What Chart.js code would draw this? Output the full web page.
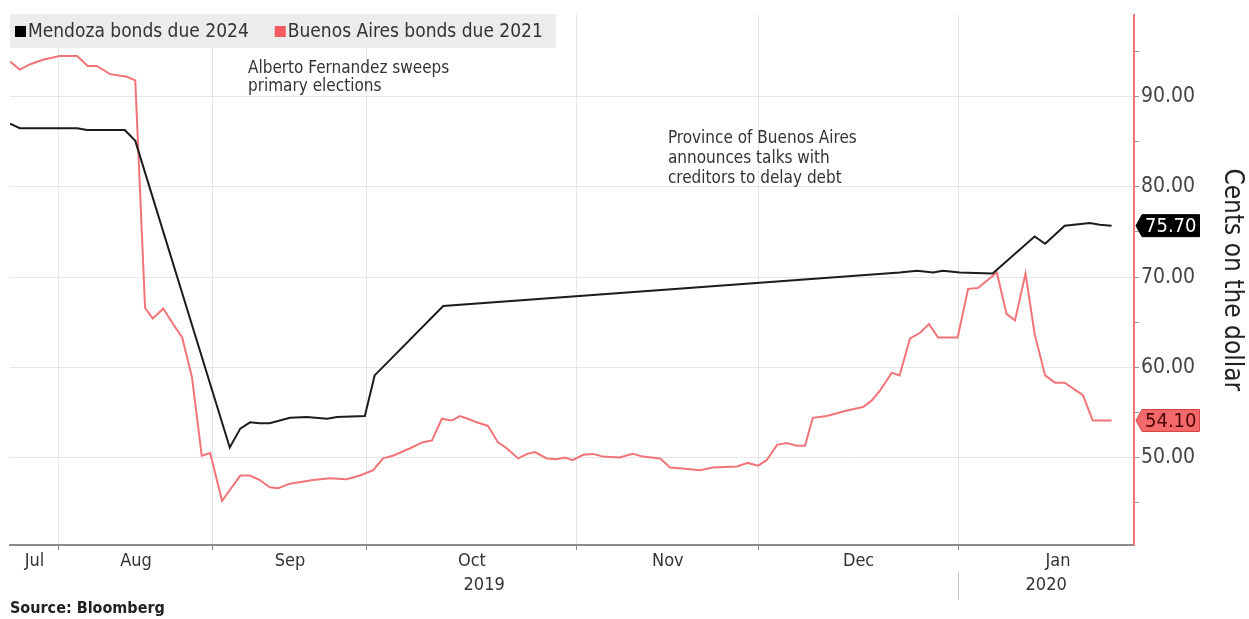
<!DOCTYPE html>
<html lang="en">
<head>
  <meta charset="UTF-8">
  <title>Mendoza vs Buenos Aires bonds</title>
  <script src="https://cdn.jsdelivr.net/npm/chart.js"></script>
  <style>
    body { margin: 0; background: #fff; }
    #wrap { width: 1249px; height: 619px; }
  </style>
</head>
<body>
  <div id="wrap"><canvas id="bondChart" width="1249" height="619"></canvas></div>
  <script>
    // x = session index (Jul 1 2019 = 0), y = cents on the dollar
    const mendozaX = [0, 1.4, 9.6, 11.0, 14.3, 16.4, 17.9, 31.4, 32.9, 34.3, 35.7, 37.1, 40.0, 42.4, 45.3, 46.7, 50.7, 52.1, 61.9,
      127.1, 129.6, 131.9, 133.3, 135.7, 140.4, 146.4, 147.9, 150.7, 154.3, 155.7, 157.4];
    const mendozaY = [87.0, 86.5, 86.5, 86.3, 86.3, 86.3, 85.1, 51.1, 53.2, 53.9, 53.8, 53.8, 54.4, 54.5, 54.3, 54.5, 54.6, 59.1, 66.8,
      70.5, 70.7, 70.5, 70.7, 70.5, 70.4, 74.5, 73.7, 75.7, 76.0, 75.8, 75.7];

    const buenosX = [0, 1.4, 2.9, 4.7, 7.1, 9.6, 11.1, 12.4, 14.3, 16.7, 17.9, 19.3, 20.4, 21.9, 23.3, 24.6, 26.0, 27.4, 28.6, 30.3,
      31.7, 32.9, 34.3, 35.7, 37.1, 38.3, 40.0, 43.3, 45.7, 48.1, 50.0, 51.9, 53.3, 54.7, 57.1, 59.0, 60.3, 61.7, 63.1, 64.3,
      65.4, 66.7, 68.3, 69.7, 71.0, 72.6, 73.9, 75.0, 76.7, 78.1, 79.3, 80.4, 81.9, 83.3, 84.7, 87.1, 89.0, 90.4, 92.9, 94.3,
      95.7, 98.6, 100.4, 103.9, 105.4, 106.9, 108.1, 109.6, 111.0, 112.4, 113.6, 114.7, 116.7, 119.6, 121.9, 123.1, 124.3, 126.0, 127.1, 128.6,
      130.0, 131.3, 132.6, 135.4, 136.9, 138.3, 141.0, 142.4, 143.6, 145.1, 146.4, 147.9, 149.3, 150.7, 153.3, 154.7, 157.4];
    const buenosY = [93.9, 93.0, 93.6, 94.1, 94.5, 94.5, 93.4, 93.4, 92.5, 92.2, 91.8, 66.6, 65.4, 66.5, 64.8, 63.3, 58.9, 50.2, 50.5, 45.2,
      46.7, 48.0, 48.0, 47.5, 46.7, 46.6, 47.1, 47.5, 47.7, 47.6, 48.0, 48.6, 49.9, 50.2, 51.0, 51.7, 51.9, 54.3, 54.1, 54.6,
      54.3, 53.9, 53.5, 51.7, 51.0, 49.9, 50.4, 50.6, 49.9, 49.8, 50.0, 49.7, 50.3, 50.4, 50.1, 50.0, 50.4, 50.1, 49.9, 48.9,
      48.8, 48.6, 48.9, 49.0, 49.4, 49.1, 49.7, 51.4, 51.6, 51.3, 51.3, 54.4, 54.6, 55.2, 55.6, 56.3, 57.4, 59.4, 59.1, 63.2,
      63.8, 64.8, 63.3, 63.3, 68.7, 68.8, 70.5, 65.9, 65.2, 70.4, 63.7, 59.1, 58.3, 58.3, 56.9, 54.1, 54.1];

    const monthNames = ['Jul', 'Aug', 'Sep', 'Oct', 'Nov', 'Dec', 'Jan'];
    const monthStarts = [-14, 7, 29, 51, 81, 107, 135.5, 164]; // last entry = Feb 1
    const yearNames = ['2019', '2020'];
    const yearStarts = [-200, 135.5, 400];
    const yTicks = [45, 50, 55, 60, 65, 70, 75, 80, 85, 90, 95];

    const noteElection = ['Alberto Fernandez sweeps', 'primary elections'];
    const noteProvince = ['Province of Buenos Aires', 'announces talks with', 'creditors to delay debt'];

    const FONT = '"DejaVu Sans Condensed", "Liberation Sans Narrow", "DejaVu Sans", sans-serif';
    const RED = '#f27479';

    function toPoints(xs, ys) {
      return xs.map((v, i) => ({ x: v, y: ys[i] }));
    }

    function drawTag(ctx, left, y, text, fill, stroke, color) {
      ctx.font = '20px ' + FONT;
      const w = ctx.measureText(text).width + 6;
      const h = 22;
      const tip = 6;
      ctx.beginPath();
      ctx.moveTo(left, y);
      ctx.lineTo(left + tip, y - h / 2);
      ctx.lineTo(left + tip + w, y - h / 2);
      ctx.lineTo(left + tip + w, y + h / 2);
      ctx.lineTo(left + tip, y + h / 2);
      ctx.closePath();
      ctx.fillStyle = fill;
      ctx.fill();
      ctx.strokeStyle = stroke;
      ctx.lineWidth = 1;
      ctx.stroke();
      ctx.fillStyle = color;
      ctx.textAlign = 'left';
      ctx.textBaseline = 'middle';
      ctx.fillText(text, left + tip + 3, y + 1);
    }

    const decor = {
      id: 'decor',
      afterDraw(chart) {
        const { ctx, chartArea, scales } = chart;
        const x = scales.x, y = scales.y;
        ctx.save();

        // legend
        ctx.fillStyle = '#ececec';
        ctx.fillRect(10, 14, 546, 34);
        ctx.font = '19px ' + FONT;
        ctx.textBaseline = 'middle';
        ctx.textAlign = 'left';
        let lx = 15;
        chart.data.datasets.forEach(ds => {
          ctx.fillStyle = ds.legendColor;
          ctx.fillRect(lx, 26, 11, 11);
          ctx.fillStyle = '#333';
          ctx.fillText(ds.label, lx + 13, 32);
          lx += 13 + ctx.measureText(ds.label).width + 26;
        });

        // annotations
        ctx.font = '17px ' + FONT;
        ctx.fillStyle = '#333';
        ctx.textBaseline = 'top';
        noteElection.forEach((t, i) => ctx.fillText(t, x.getPixelForValue(34), y.getPixelForValue(94.1) + i * 18));
        noteProvince.forEach((t, i) => ctx.fillText(t, x.getPixelForValue(94), y.getPixelForValue(86.3) + i * 20));

        // month and year labels
        ctx.font = '18px ' + FONT;
        ctx.fillStyle = '#333';
        ctx.textAlign = 'center';
        ctx.textBaseline = 'middle';
        monthNames.forEach((m, i) => {
          const a = Math.max(monthStarts[i], x.min);
          const b = monthStarts[i + 1];
          ctx.fillText(m, x.getPixelForValue((a + b) / 2), chartArea.bottom + 16);
        });
        yearNames.forEach((yr, i) => {
          const a = Math.max(yearStarts[i], x.min);
          const b = Math.min(yearStarts[i + 1], x.max);
          ctx.fillText(yr, x.getPixelForValue((a + b) / 2), chartArea.bottom + 40);
        });
        const sep = Math.round(x.getPixelForValue(yearStarts[1])) + 0.5;
        ctx.strokeStyle = '#c8c8c8';
        ctx.lineWidth = 1;
        ctx.beginPath();
        ctx.moveTo(sep, chartArea.bottom + 27);
        ctx.lineTo(sep, chartArea.bottom + 55);
        ctx.stroke();

        // last value tags
        const tagLeft = chartArea.right + 2;
        drawTag(ctx, tagLeft, y.getPixelForValue(mendozaY[mendozaY.length - 1]),
          mendozaY[mendozaY.length - 1].toFixed(2), '#000', '#000', '#fff');
        drawTag(ctx, tagLeft, y.getPixelForValue(buenosY[buenosY.length - 1]),
          buenosY[buenosY.length - 1].toFixed(2), '#f46a6a', '#d94545', '#4a0000');

        // source
        ctx.font = 'bold 16px ' + FONT;
        ctx.fillStyle = '#222';
        ctx.textAlign = 'left';
        ctx.textBaseline = 'middle';
        ctx.fillText('Source: Bloomberg', 10, 609);
        ctx.restore();
      }
    };

    const ctx = document.getElementById('bondChart').getContext('2d');
    new Chart(ctx, {
      type: 'line',
      data: {
        datasets: [
          {
            label: 'Mendoza bonds due 2024',
            data: toPoints(mendozaX, mendozaY),
            borderColor: '#1c1c1c',
            legendColor: '#000',
            borderWidth: 2,
            pointRadius: 0,
            tension: 0
          },
          {
            label: 'Buenos Aires bonds due 2021',
            data: toPoints(buenosX, buenosY),
            borderColor: RED,
            legendColor: '#f45a5f',
            borderWidth: 2,
            pointRadius: 0,
            tension: 0
          }
        ]
      },
      options: {
        responsive: false,
        animation: false,
        layout: { padding: { left: 10, top: 0, right: 0, bottom: 0 } },
        plugins: {
          legend: { display: false },
          tooltip: { enabled: false }
        },
        scales: {
          x: {
            type: 'linear',
            min: 0,
            max: 160.6,
            afterBuildTicks: s => { s.ticks = monthStarts.filter(v => v > s.min && v < s.max).map(v => ({ value: v })); },
            afterFit: s => { s.height = 74; },
            ticks: { callback: () => '', autoSkip: false },
            grid: { color: '#e6e6e6', tickColor: '#888', tickLength: 5, lineWidth: 1 },
            border: { color: '#8a8a8a', width: 2 }
          },
          y: {
            position: 'right',
            min: 40.3,
            max: 99.1,
            afterBuildTicks: s => { s.ticks = yTicks.map(v => ({ value: v })); },
            afterFit: s => { s.width = 115; },
            ticks: {
              autoSkip: false,
              padding: 2,
              color: '#444',
              font: { family: FONT, size: 21 },
              callback: v => (v % 10 === 0 ? v.toFixed(2) : '')
            },
            grid: {
              color: c => (c.tick && c.tick.value % 10 === 0 ? '#e6e6e6' : 'rgba(0,0,0,0)'),
              tickColor: '#999',
              tickLength: 5
            },
            border: { color: RED, width: 2 },
            title: {
              display: true,
              text: 'Cents on the dollar',
              color: '#222',
              font: { family: FONT, size: 26 },
              padding: { top: 2, bottom: 1 }
            }
          }
        }
      },
      plugins: [decor]
    });
  </script>
</body>
</html>
